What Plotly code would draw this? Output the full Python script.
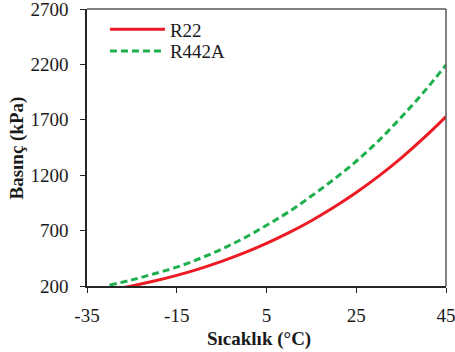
import plotly.graph_objects as go

temps = [-30, -25, -20, -15, -10, -5, 0, 5, 10, 15, 20, 25, 30, 35, 40, 45]
r22 = [164, 201, 245, 296, 355, 422, 498, 584, 681, 789, 910, 1044, 1192, 1355, 1534, 1729]
r442a = [208, 255, 311, 370, 446, 532, 632, 748, 870, 1012, 1162, 1326, 1512, 1722, 1948, 2195]

x_ticks = [-35, -15, 5, 25, 45]
y_ticks = [200, 700, 1200, 1700, 2200, 2700]

FONT = "Liberation Serif"
TXT = "#1a1a1a"

fig = go.Figure()
fig.add_trace(go.Scatter(x=temps, y=r22, mode="lines", name="R22", legend="legend",
                         line=dict(color="#ED1C24", width=3, shape="spline")))
fig.add_trace(go.Scatter(x=temps, y=r442a, mode="lines", name="R442A", legend="legend2",
                         line=dict(color="#1FB04C", width=3, dash="7px,4px", shape="spline")))

axis_common = dict(showgrid=False, zeroline=False, showline=True, linecolor="#262626",
                   linewidth=1.5, ticks="outside", ticklen=5, tickcolor="#262626",
                   ticklabeloverflow="allow", automargin=False,
                   tickfont=dict(family=FONT, size=19, color=TXT))

legend_common = dict(xanchor="left", yanchor="middle", itemwidth=55,
                     bgcolor="rgba(0,0,0,0)", font=dict(family=FONT, size=19, color=TXT))

fig.update_layout(
    width=455, height=352,
    margin=dict(l=87, r=9, t=9, b=66),
    paper_bgcolor="white", plot_bgcolor="white",
    font=dict(family=FONT, size=19, color=TXT),
    showlegend=True,
    legend=dict(x=0.05, y=0.926, **legend_common),
    legend2=dict(x=0.05, y=0.848, **legend_common),
    xaxis=dict(range=[-35, 45], tickvals=x_ticks, ticktext=[str(v) for v in x_ticks],
               ticklabelstandoff=6, **axis_common),
    yaxis=dict(range=[200, 2700], tickvals=y_ticks, ticktext=[str(v) for v in y_ticks],
               ticklabelstandoff=8, **axis_common),
    shapes=[
        dict(type="line", xref="paper", yref="paper", x0=0, x1=1, y0=1, y1=1,
             line=dict(color="#595959", width=1.5)),
        dict(type="line", xref="paper", yref="paper", x0=1, x1=1, y0=0, y1=1,
             line=dict(color="#595959", width=1.5)),
    ],
    annotations=[
        dict(text="<b>Sıcaklık (°C)</b>", xref="paper", yref="paper", x=0.48, y=-0.19,
             xanchor="center", yanchor="middle", showarrow=False,
             font=dict(family=FONT, size=19, color=TXT)),
        dict(text="<b>Basınç (kPa)</b>", xref="paper", yref="paper", x=-0.195, y=0.5,
             xanchor="center", yanchor="middle", showarrow=False, textangle=-90,
             font=dict(family=FONT, size=19, color=TXT)),
    ],
)

fig.write_html("out.html")
